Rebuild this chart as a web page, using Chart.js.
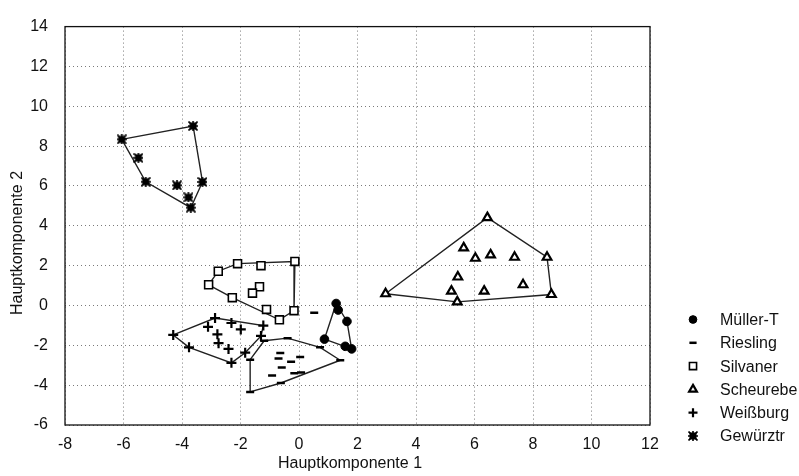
<!DOCTYPE html>
<html><head><meta charset="utf-8">
<script src="https://cdn.jsdelivr.net/npm/chart.js@4"></script>
<style>html,body{margin:0;padding:0;background:#fff}</style>
</head><body>
<canvas id="c" width="799" height="476"></canvas>
<script>
// ---- data ----
const groups = ["Müller-T","Riesling","Silvaner","Scheurebe","Weißburg","Gewürztr"];

const mullerX = [1.27,1.34,1.64,0.87,1.58,1.80];
const mullerY = [0.10,-0.23,-0.80,-1.69,-2.05,-2.18];

const rieslingX = [0.52,-1.67,-1.19,-0.39,0.72,1.41,-0.64,0.04,-0.70,-0.27,-0.59,-0.92,-0.16,0.07,-0.62,-1.67];
const rieslingY = [-0.36,-2.72,-1.77,-1.64,-2.10,-2.75,-2.39,-2.59,-2.66,-2.83,-3.11,-3.51,-3.40,-3.37,-3.89,-4.34];

const silvanerX = [-2.76,-2.10,-1.30,-0.14,-3.09,-1.35,-1.59,-2.28,-1.11,-0.17,-0.67];
const silvanerY = [1.72,2.10,2.00,2.21,1.04,0.94,0.62,0.39,-0.20,-0.26,-0.72];

const scheurebeX = [6.44,5.63,6.03,6.55,7.37,8.48,5.43,7.66,5.21,6.33,2.96,8.63,5.41];
const scheurebeY = [4.41,2.89,2.37,2.54,2.42,2.42,1.43,1.04,0.72,0.72,0.59,0.55,0.18];

const weissburgX = [-2.87,-2.31,-3.11,-1.99,-1.22,-2.79,-1.30,-4.30,-2.75,-3.76,-2.41,-1.84,-2.31];
const weissburgY = [-0.63,-0.88,-1.07,-1.20,-1.01,-1.45,-1.53,-1.48,-1.89,-2.10,-2.18,-2.37,-2.88];

const gewurzX = [-6.06,-5.49,-5.24,-4.17,-3.78,-3.70,-3.30,-3.62];
const gewurzY = [8.34,7.41,6.21,6.03,5.43,4.91,6.20,9.01];

// hull outlines: indices of the points that form each group's enclosing polygon
const mullerHull = [0,2,5,3];
const rieslingHull = [1,2,3,4,5,14,15];
const silvanerHull = [4,0,1,3,9,10,7];
const scheurebeHull = [10,0,5,11,12];
const weissburgHull = [7,0,4,6,11,12,9];
const gewurzHull = [0,7,6,5,2];

const xTickValues = [-8,-6,-4,-2,0,2,4,6,8,10,12];
const yTickValues = [-6,-4,-2,0,2,4,6,8,10,12,14];

const xTitle = "Hauptkomponente 1";
const yTitle = "Hauptkomponente 2";

// ---- styling ----
const FONT = '"Liberation Sans", Arial, sans-serif';

function blobMarker(size) {
  const c = document.createElement('canvas');
  c.width = size; c.height = size;
  const g = c.getContext('2d');
  const m = size / 2;
  g.fillStyle = '#000';
  g.fillRect(1.5, 1.5, size - 3, size - 3);
  g.strokeStyle = '#000'; g.lineWidth = 1.6;
  g.beginPath();
  g.moveTo(0.5, 0.5); g.lineTo(size - 0.5, size - 0.5);
  g.moveTo(size - 0.5, 0.5); g.lineTo(0.5, size - 0.5);
  g.moveTo(m, 0); g.lineTo(m, size);
  g.moveTo(0, m); g.lineTo(size, m);
  g.stroke();
  return c;
}
const gewurzMarker = blobMarker(10);

const styles = [
  {pointStyle:'circle', radius:4.3, backgroundColor:'#000', borderColor:'#000', borderWidth:1},
  {pointStyle:'line', radius:4, backgroundColor:'#000', borderColor:'#000', borderWidth:2.5},
  {pointStyle:'rect', radius:5.6, backgroundColor:'#fff', borderColor:'#000', borderWidth:1.6},
  {pointStyle:'triangle', radius:5, backgroundColor:'#fff', borderColor:'#000', borderWidth:2.2},
  {pointStyle:'cross', radius:5, backgroundColor:'#000', borderColor:'#000', borderWidth:2.2},
  {pointStyle:gewurzMarker, radius:5, backgroundColor:'#000', borderColor:'#000', borderWidth:1}
];
const seriesX = [mullerX, rieslingX, silvanerX, scheurebeX, weissburgX, gewurzX];
const seriesY = [mullerY, rieslingY, silvanerY, scheurebeY, weissburgY, gewurzY];
const hulls = [mullerHull, rieslingHull, silvanerHull, scheurebeHull, weissburgHull, gewurzHull];

const datasets = [];
groups.forEach((g, i) => {
  const pts = seriesX[i].map((x, k) => ({x, y: seriesY[i][k]}));
  const hullPts = hulls[i].map(k => pts[k]);
  hullPts.push(hullPts[0]);
  datasets.push({
    label: g + ' hull', data: hullPts, showLine: true, pointRadius: 0, pointHoverRadius: 0,
    borderColor: '#222', borderWidth: 1.4, fill: false, order: 2, tension: 0
  });
  const s = styles[i];
  datasets.push({
    label: g, data: pts, showLine: false, order: 1,
    pointStyle: s.pointStyle, pointRadius: s.radius, pointHoverRadius: s.radius,
    pointBackgroundColor: s.backgroundColor, pointBorderColor: s.borderColor,
    pointBorderWidth: s.borderWidth, backgroundColor: s.backgroundColor, borderColor: s.borderColor
  });
});

const decor = {
  id: 'decor',
  afterDraw(chart) {
    const ctx = chart.ctx, ca = chart.chartArea;
    ctx.save();
    ctx.strokeStyle = '#111'; ctx.lineWidth = 1.3; ctx.setLineDash([]);
    ctx.strokeRect(ca.left, ca.top, ca.right - ca.left, ca.bottom - ca.top);
    ctx.fillStyle = '#111';
    ctx.font = '16px ' + FONT;
    ctx.textAlign = 'center'; ctx.textBaseline = 'middle';
    ctx.fillText(xTitle, 350, 464);
    ctx.save(); ctx.translate(18, 243); ctx.rotate(-Math.PI/2);
    ctx.fillText(yTitle, 0, 0); ctx.restore();
    // legend
    ctx.font = '16px ' + FONT;
    ctx.textAlign = 'left';
    groups.forEach((g, i) => {
      const y = 319.5 + i * 23.3;
      const s = styles[i];
      ctx.save();
      ctx.fillStyle = s.backgroundColor; ctx.strokeStyle = s.borderColor; ctx.lineWidth = s.borderWidth;
      Chart.helpers.drawPoint(ctx, {pointStyle: s.pointStyle, radius: s.radius * 0.9, borderWidth: s.borderWidth, rotation: 0}, 693, y);
      ctx.restore();
      ctx.fillStyle = '#111';
      ctx.fillText(g, 720, y + 1);
    });
    ctx.restore();
  }
};

new Chart(document.getElementById('c'), {
  type: 'scatter',
  data: { datasets },
  options: {
    responsive: false, animation: false, devicePixelRatio: 1,
    layout: { padding: { top: 15, right: 149, bottom: 0, left: 0 } },
    plugins: { legend: { display: false }, tooltip: { enabled: false } },
    scales: {
      x: {
        type: 'linear', min: -8, max: 12,
        afterBuildTicks: sc => { sc.ticks = xTickValues.map(v => ({value: v})); },
        afterFit: sc => { sc.height = 51; },
        ticks: { color: '#111', font: { size: 16, family: FONT }, padding: 10, maxRotation: 0 },
        grid: { color: '#7a7a7a', lineWidth: 1, drawTicks: false },
        border: { display: false, dash: [1, 3] }
      },
      y: {
        type: 'linear', min: -6, max: 14,
        afterBuildTicks: sc => { sc.ticks = yTickValues.map(v => ({value: v})); },
        afterFit: sc => { sc.width = 65; },
        ticks: { color: '#111', font: { size: 16, family: FONT }, padding: 17 },
        grid: { color: '#7a7a7a', lineWidth: 1, drawTicks: false },
        border: { display: false, dash: [1, 3] }
      }
    }
  },
  plugins: [decor]
});
</script>
</body></html>
